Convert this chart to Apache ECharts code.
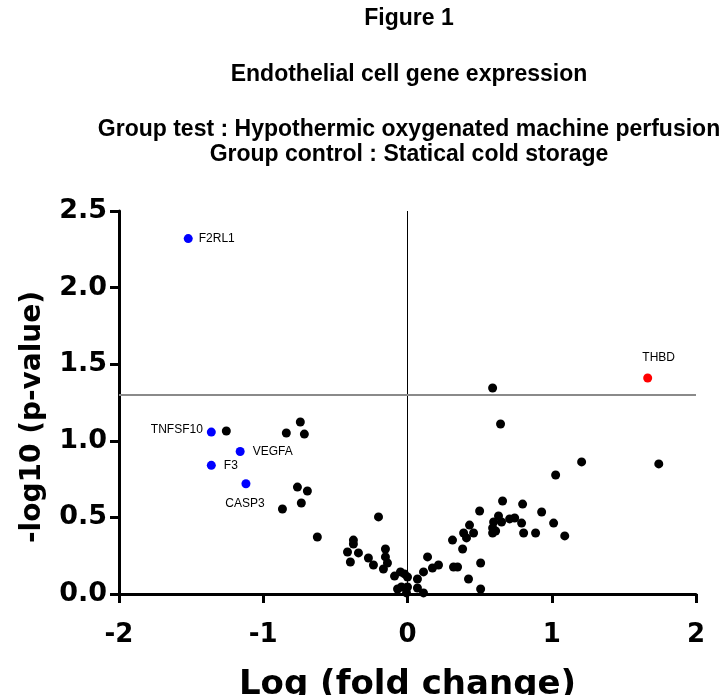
<!DOCTYPE html>
<html>
<head>
<meta charset="utf-8">
<script src="https://cdn.jsdelivr.net/npm/echarts@6/dist/echarts.min.js"></script>
<style>
html,body{margin:0;padding:0;background:#fff;}
#c{width:722px;height:695px;}
</style>
</head>
<body>
<div id="c"></div>
<script>
// ---- data ----
const titleLines = ["Figure 1", "Endothelial cell gene expression", "Group test : Hypothermic oxygenated machine perfusion", "Group control : Statical cold storage"];
const xAxisTitle = "Log (fold change)";
const yAxisTitle = "-log10 (p-value)";
const xTicks = [-2, -1, 0, 1, 2];
const yTicks = [0, 0.5, 1.0, 1.5, 2.0, 2.5];
const pThreshold = 1.3;

const blackX = [-1.256,-0.840,-0.743,-0.715,-0.763,-0.694,-0.736,-0.867,-0.625,-0.201,-0.375,-0.375,-0.416,-0.340,-0.396,-0.271,-0.236,-0.153,-0.153,-0.139,-0.167,-0.090,-0.049,-0.021,0.000,-0.042,-0.069,0.000,-0.007,
  0.069,0.069,0.111,0.111,0.139,0.173,0.215,0.312,0.389,0.409,0.458,0.430,0.382,0.319,0.347,0.423,0.507,0.507,0.500,0.590,0.645,0.659,0.798,0.930,0.631,0.708,0.743,0.597,0.652,0.791,1.013,0.590,0.611,0.590,0.805,0.888,1.090,1.207,1.027,1.742];
const blackY = [1.064,1.051,1.123,1.044,0.698,0.672,0.594,0.555,0.372,0.503,0.352,0.326,0.274,0.268,0.209,0.235,0.189,0.294,0.242,0.202,0.163,0.117,0.144,0.131,0.111,0.046,0.033,0.046,0.007,
  0.098,0.039,0.007,0.144,0.242,0.170,0.189,0.352,0.398,0.366,0.398,0.450,0.294,0.176,0.176,0.098,0.202,0.033,0.542,1.345,1.110,0.607,0.587,0.535,0.509,0.490,0.496,0.470,0.470,0.463,0.463,0.431,0.411,0.398,0.398,0.398,0.379,0.862,0.777,0.849];

const blueGenes = ["F2RL1", "TNFSF10", "VEGFA", "F3", "CASP3"];
const blueX = [-1.52, -1.36, -1.16, -1.36, -1.12];
const blueY = [2.32, 1.057, 0.93, 0.84, 0.72];

const redGenes = ["THBD"];
const redX = [1.665];
const redY = [1.41];

// ---- label placement (style) ----
const labelPos = {
  F2RL1: {position: 'right', distance: 6},
  TNFSF10: {position: 'left', distance: 4, offset: [0, -2]},
  VEGFA: {position: 'right', distance: 8},
  F3: {position: 'right', distance: 8},
  CASP3: {position: 'bottom', distance: 9, offset: [-1, 0]},
  THBD: {position: 'top', distance: 10, offset: [11, 0]}
};

const titleFont = 'Liberation Sans, Arial, sans-serif';
const axisFont = 'DejaVu Sans, Verdana, sans-serif';

function labeled(names, xs, ys) {
  return names.map((n, i) => ({
    value: [xs[i], ys[i]],
    name: n,
    label: Object.assign({show: true, formatter: n, color: '#000', fontSize: 12, fontFamily: titleFont}, labelPos[n])
  }));
}

const chart = echarts.init(document.getElementById('c'), null, {renderer: 'canvas'});

const titleY = [19, 75, 130, 155];
const graphics = titleLines.map((t, i) => ({
  type: 'text', x: 409, y: titleY[i],
  style: {text: t, font: 'bold 23px ' + titleFont, fill: '#000', textAlign: 'center', textVerticalAlign: 'middle'}
}));
graphics.push({
  type: 'text', x: 33, y: 417, rotation: Math.PI / 2,
  style: {text: yAxisTitle, font: 'bold 28px ' + axisFont, fill: '#000', textAlign: 'center', textVerticalAlign: 'middle'}
});

chart.setOption({
  animation: false,
  backgroundColor: '#fff',
  graphic: graphics,
  grid: {left: 119, right: 26, top: 211, bottom: 101, containLabel: false, outerBoundsMode: 'none'},
  xAxis: {
    type: 'value', min: xTicks[0], max: xTicks[xTicks.length - 1], interval: 1,
    splitLine: {show: false},
    axisLine: {onZero: false, lineStyle: {color: '#000', width: 3}},
    axisTick: {show: true, length: 9, lineStyle: {color: '#000', width: 3}},
    axisLabel: {color: '#000', fontSize: 26, fontWeight: 'bold', fontFamily: axisFont, margin: 28, formatter: v => String(v)},
    name: xAxisTitle, nameLocation: 'middle', nameGap: 74,
    nameTextStyle: {color: '#000', fontSize: 34, fontWeight: 'bold', fontFamily: axisFont}
  },
  yAxis: {
    type: 'value', min: yTicks[0], max: yTicks[yTicks.length - 1], interval: 0.5,
    splitLine: {show: false},
    axisLine: {onZero: false, lineStyle: {color: '#000', width: 3}},
    axisTick: {show: true, length: 9, lineStyle: {color: '#000', width: 3}},
    axisLabel: {color: '#000', fontSize: 27, fontWeight: 'bold', fontFamily: axisFont, margin: 12, formatter: v => v.toFixed(1)}
  },
  series: [
    {
      type: 'scatter', symbolSize: 9, silent: true,
      itemStyle: {color: '#000', opacity: 1},
      data: blackX.map((x, i) => [x, blackY[i]]),
      markLine: {
        silent: true, symbol: 'none', label: {show: false},
        data: [
          [{coord: [0, yTicks[0]], lineStyle: {color: '#000', width: 1, type: 'solid'}}, {coord: [0, yTicks[yTicks.length - 1]]}],
          [{coord: [xTicks[0], pThreshold], lineStyle: {color: '#8a8a8a', width: 2, type: 'solid'}}, {coord: [xTicks[xTicks.length - 1], pThreshold]}]
        ]
      },
      z: 3
    },
    {
      type: 'scatter', symbolSize: 9, silent: true,
      itemStyle: {color: '#0000ff', opacity: 1},
      data: labeled(blueGenes, blueX, blueY), z: 4
    },
    {
      type: 'scatter', symbolSize: 9, silent: true,
      itemStyle: {color: '#ff0000', opacity: 1},
      data: labeled(redGenes, redX, redY), z: 4
    }
  ]
});
</script>
</body>
</html>
